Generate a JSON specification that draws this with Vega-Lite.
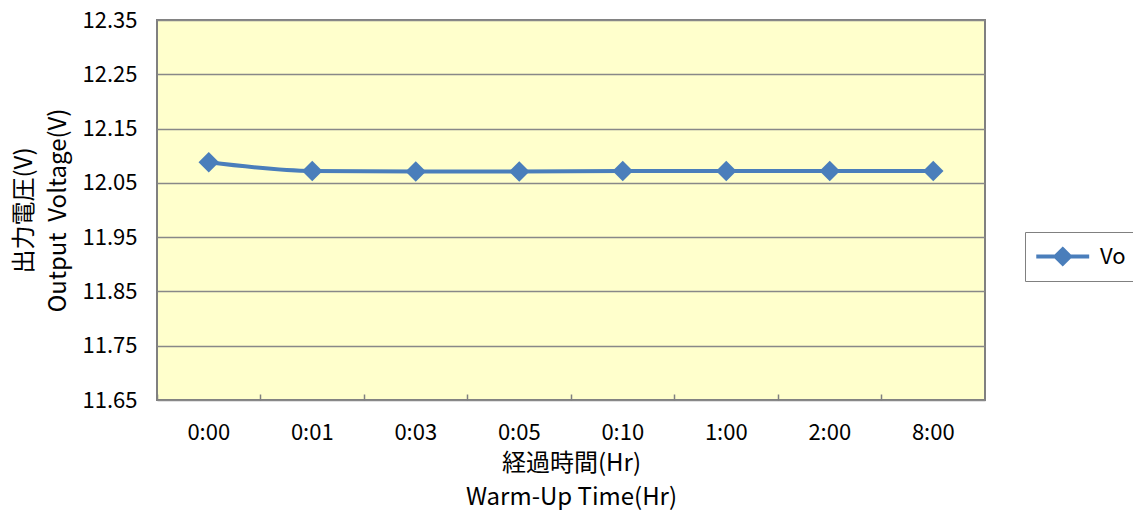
{
  "$schema": "https://vega.github.io/schema/vega-lite/v6.json",
  "autosize": "none",
  "width": 828,
  "height": 380,
  "padding": {"left": 157, "top": 20, "right": 148, "bottom": 110},
  "background": "white",
  "config": {
    "font": "Noto Sans CJK JP",
    "view": {"fill": "#FFFFCC", "stroke": "#808080", "strokeWidth": 2}
  },
  "data": {
    "values": [
      {"time": "0:00", "v": 12.088, "series": "Vo"},
      {"time": "0:01", "v": 12.072, "series": "Vo"},
      {"time": "0:03", "v": 12.071, "series": "Vo"},
      {"time": "0:05", "v": 12.071, "series": "Vo"},
      {"time": "0:10", "v": 12.072, "series": "Vo"},
      {"time": "1:00", "v": 12.072, "series": "Vo"},
      {"time": "2:00", "v": 12.072, "series": "Vo"},
      {"time": "8:00", "v": 12.072, "series": "Vo"}
    ]
  },
  "encoding": {
    "x": {
      "field": "time",
      "type": "ordinal",
      "sort": null,
      "scale": {"type": "band", "paddingInner": 0, "paddingOuter": 0},
      "axis": {
        "title": ["経過時間(Hr)", "Warm-Up Time(Hr)"],
        "titleFontSize": 24,
        "titleFontWeight": "normal",
        "titleColor": "black",
        "titleLineHeight": 34,
        "titlePadding": 8,
        "labelAngle": 0,
        "labelFontSize": 22,
        "labelColor": "black",
        "labelPadding": 28,
        "bandPosition": 0,
        "tickSize": -6,
        "tickColor": "#808080",
        "tickWidth": 1.5,
        "domain": false,
        "grid": false
      }
    },
    "y": {
      "field": "v",
      "type": "quantitative",
      "scale": {"domain": [11.65, 12.35], "nice": false, "zero": false},
      "axis": {
        "values": [11.65, 11.75, 11.85, 11.95, 12.05, 12.15, 12.25, 12.35],
        "format": ".2f",
        "title": ["出力電圧(V)", "Output\u00a0\u00a0Voltage(V)"],
        "titleFontSize": 24,
        "titleFontWeight": "normal",
        "titleColor": "black",
        "titleLineHeight": 34,
        "titlePadding": 12,
        "labelFontSize": 22,
        "labelColor": "black",
        "labelPadding": 20,
        "ticks": false,
        "domain": false,
        "grid": true,
        "gridColor": "#888888",
        "gridWidth": 1.5
      }
    },
    "color": {
      "field": "series",
      "type": "nominal",
      "scale": {"range": ["#4A7EBB"]},
      "legend": {
        "title": null,
        "orient": "none",
        "legendX": 868,
        "legendY": 212,
        "strokeColor": "#808080",
        "padding": 9,
        "labelFontSize": 22,
        "labelColor": "black",
        "labelLimit": 200,
        "symbolType": "M-1,0L3,0M1,-0.55L1.55,0L1,0.55L0.45,0Z",
        "symbolSize": 700,
        "symbolStrokeWidth": 4,
        "symbolFillColor": "#4A7EBB",
        "symbolStrokeColor": "#4A7EBB",
        "labelOffset": 35
      }
    }
  },
  "layer": [
    {"mark": {"type": "line", "interpolate": "monotone", "strokeWidth": 4}},
    {"mark": {"type": "point", "shape": "diamond", "filled": true, "size": 420, "opacity": 1}}
  ]
}
